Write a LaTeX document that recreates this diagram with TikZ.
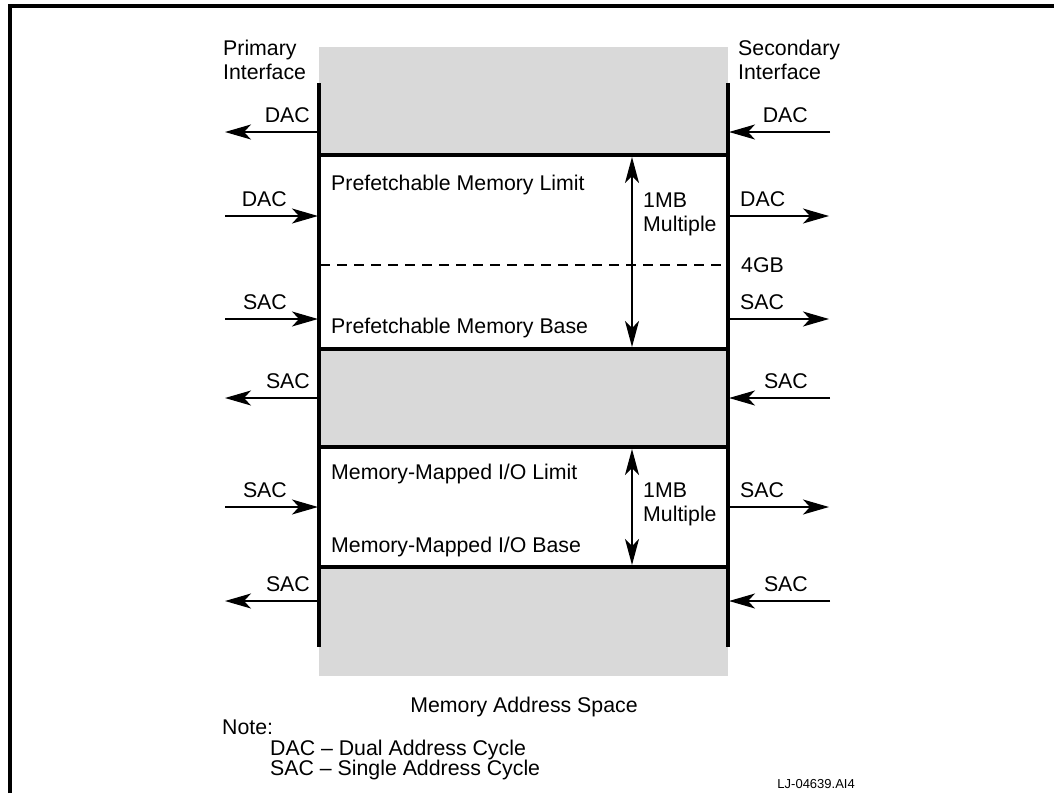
\documentclass[tikz,border=0pt]{standalone}
\usepackage{fontspec}
\setmainfont{Liberation Sans}
\usetikzlibrary{arrows.meta}
\definecolor{band}{RGB}{217,217,217}
\begin{document}
\begin{tikzpicture}[x=1pt,y=-1pt,
  txt/.style={inner sep=0pt,font=\fontsize{21.3}{24}\selectfont},
  small/.style={inner sep=0pt,font=\fontsize{13}{15}\selectfont},
  sig/.style={line width=1.3pt,-{Stealth[length=26pt,width=15pt,inset=7pt]}},
  span/.style={line width=1.3pt,{Stealth[length=26pt,width=14pt,inset=7pt]}-{Stealth[length=26pt,width=14pt,inset=7pt]}},
  bus/.style={line width=4pt},
  edge/.style={line width=3.5pt},
  frame/.style={line width=4pt}]
\useasboundingbox (0,0) rectangle (1054,793);
% frame
\draw[frame] (9.5,793) -- (9.5,5.5) -- (1054,5.5);
% memory bands
\fill[band] (319,47) rectangle (728,676);
\fill[white] (319,155) rectangle (728,349);
\fill[white] (319,447) rectangle (728,567);
\foreach \yy/\nm in {155/b1,349/b2,447/b3,567/b4}{
  \coordinate (\nm L) at (319,\yy);
  \coordinate (\nm R) at (728,\yy);
  \draw[edge] (\nm L) -- (\nm R);
}
% dashed 4GB line
\coordinate (gL) at (320,265);
\coordinate (gR) at (726,265);
\draw[line width=1.2pt,dash pattern=on 10pt off 7pt] (gL) -- (gR);
% interface buses
\coordinate (pT) at (319,83);
\coordinate (pB) at (319,647);
\coordinate (sT) at (728,83);
\coordinate (sB) at (728,647);
\draw[bus] (pT) -- (pB);
\draw[bus] (sT) -- (sB);
% headers
\node[txt,anchor=base west,align=left] (prim) at (223,79.5) {Primary\\Interface};
\node[txt,anchor=base west,align=left] (sec) at (738,79.5) {Secondary\\Interface};
% left side arrows: out (to left)
\foreach \yy/\lab/\nm in {132/DAC/l1,398/SAC/l4,601/SAC/l6}{
  \coordinate (\nm a) at (319,\yy);
  \coordinate (\nm b) at (225,\yy);
  \draw[sig] (\nm a) -- (\nm b);
  \node[txt,anchor=base east] (\nm t) at (310,\yy-9.5) {\lab};
}
% left side arrows: in (to right)
\foreach \yy/\lab/\nm in {216/DAC/l2,319/SAC/l3,507/SAC/l5}{
  \coordinate (\nm a) at (225,\yy);
  \coordinate (\nm b) at (318,\yy);
  \draw[sig] (\nm a) -- (\nm b);
  \node[txt,anchor=base east] (\nm t) at (287,\yy-9.5) {\lab};
}
% right side arrows: in (to left)
\foreach \yy/\lab/\nm in {132/DAC/r1,398/SAC/r4,601/SAC/r6}{
  \coordinate (\nm a) at (830,\yy);
  \coordinate (\nm b) at (729,\yy);
  \draw[sig] (\nm a) -- (\nm b);
  \node[txt,anchor=base east] (\nm t) at (808,\yy-9.5) {\lab};
}
% right side arrows: out (to right)
\foreach \yy/\lab/\nm in {216/DAC/r2,319/SAC/r3,507/SAC/r5}{
  \coordinate (\nm a) at (729,\yy);
  \coordinate (\nm b) at (829,\yy);
  \draw[sig] (\nm a) -- (\nm b);
  \node[txt,anchor=base west] (\nm t) at (740,\yy-9.5) {\lab};
}
\node[txt,anchor=base west] (fourgb) at (741,272.5) {4GB};
% range arrows
\coordinate (s1a) at (632,157);
\coordinate (s1b) at (632,347);
\draw[span] (s1a) -- (s1b);
\node[txt,anchor=base west,align=left] (m1) at (643,231) {1MB\\Multiple};
\coordinate (s2a) at (632,449);
\coordinate (s2b) at (632,565);
\draw[span] (s2a) -- (s2b);
\node[txt,anchor=base west,align=left] (m2) at (643,521) {1MB\\Multiple};
% band labels
\node[txt,anchor=base west] (pml) at (331,190.5) {Prefetchable Memory Limit};
\node[txt,anchor=base west] (pmb) at (331,333.5) {Prefetchable Memory Base};
\node[txt,anchor=base west] (mml) at (331,479) {Memory-Mapped I/O Limit};
\node[txt,anchor=base west] (mmb) at (331,552) {Memory-Mapped I/O Base};
% bottom texts
\node[txt,anchor=base] (mas) at (524,712.5) {Memory Address Space};
\node[txt,anchor=base west] (note) at (222,734.5) {Note:};
\node[txt,anchor=base west] (n1) at (270,755.5) {DAC -- Dual Address Cycle};
\node[txt,anchor=base west] (n2) at (270,775.5) {SAC -- Single Address Cycle};
\node[small,anchor=base east] (lj) at (855,788) {LJ-04639.AI4};
\end{tikzpicture}
\end{document}
